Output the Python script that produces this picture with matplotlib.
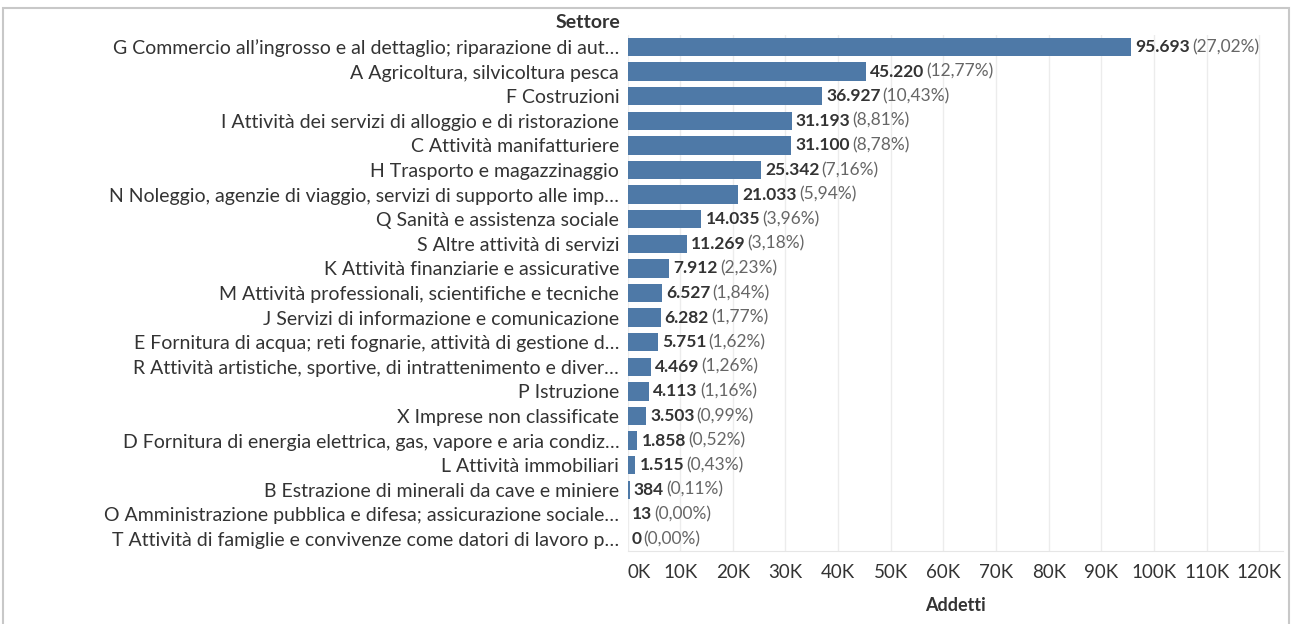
import matplotlib
matplotlib.use("Agg")
import matplotlib.pyplot as plt
from matplotlib.patches import Rectangle

plt.rcParams['font.family'] = ['Lato', 'DejaVu Sans']

settori = [
    "G Commercio all\u2019ingrosso e al dettaglio; riparazione di aut\u2026",
    "A Agricoltura, silvicoltura pesca",
    "F Costruzioni",
    "I Attività dei servizi di alloggio e di ristorazione",
    "C Attività manifatturiere",
    "H Trasporto e magazzinaggio",
    "N Noleggio, agenzie di viaggio, servizi di supporto alle imp\u2026",
    "Q Sanità e assistenza sociale",
    "S Altre attività di servizi",
    "K Attività finanziarie e assicurative",
    "M Attività professionali, scientifiche e tecniche",
    "J Servizi di informazione e comunicazione",
    "E Fornitura di acqua; reti fognarie, attività di gestione d\u2026",
    "R Attività artistiche, sportive, di intrattenimento e diver\u2026",
    "P Istruzione",
    "X Imprese non classificate",
    "D Fornitura di energia elettrica, gas, vapore e aria condiz\u2026",
    "L Attività immobiliari",
    "B Estrazione di minerali da cave e miniere",
    "O Amministrazione pubblica e difesa; assicurazione sociale\u2026",
    "T Attività di famiglie e convivenze come datori di lavoro p\u2026",
]
addetti = [95693, 45220, 36927, 31193, 31100, 25342, 21033, 14035, 11269,
           7912, 6527, 6282, 5751, 4469, 4113, 3503, 1858, 1515, 384, 13, 0]
tick_values = list(range(0, 120001, 10000))
tick_labels = [f"{v // 1000}K" for v in tick_values]

BAR = "#4e79a7"
TXT = "#333333"
GRAY = "#666666"

totale = sum(addetti)
W, H = 1291, 624
fig = plt.figure(figsize=(W / 100, H / 100), dpi=100)
ax = fig.add_axes([627.5 / W, 1 - 551.3 / H, (1283 - 627.5) / W, (551.3 - 34.7) / H])

y = list(range(len(addetti)))
ax.barh(y, addetti, height=0.75, color=BAR, zorder=3)
ax.set_ylim(len(addetti) - 0.5, -0.5)
ax.set_xlim(0, 124500)

ax.set_yticks(y)
ax.set_yticklabels(settori, fontsize=14, color=TXT)
ax.set_xticks(tick_values)
ax.set_xticklabels(tick_labels, fontsize=13.5, color=TXT)
ax.get_xticklabels()[0].set_horizontalalignment('left')
ax.tick_params(axis='y', length=0, pad=6)
ax.tick_params(axis='x', length=0, pad=9)

ax.grid(axis='x', color="#ececec", linewidth=1, zorder=0)
for s in ['top', 'right', 'left']:
    ax.spines[s].set_visible(False)
ax.spines['bottom'].set_color("#e6e6e6")

ax.set_xlabel("Addetti", fontsize=13, fontweight='bold', color=TXT, labelpad=12)
fig.text(620 / W, 1 - 23 / H, "Settore", fontsize=14, fontweight='bold',
         color=TXT, ha='right', va='center')

# value labels: bold count followed by grey share
for yi, v in zip(y, addetti):
    num = f"{v:,}".replace(",", ".")
    pct = f"({100 * v / totale:.2f}%)".replace(".", ",")
    t = ax.annotate(num, xy=(v, yi), xytext=(3, 0), textcoords='offset points',
                    fontsize=12.5, fontweight='bold', color=TXT,
                    ha='left', va='center')
    ax.annotate(pct, xy=(1, 0.5), xycoords=t, xytext=(1.5, 0),
                textcoords='offset points', fontsize=12.5, color=GRAY,
                ha='left', va='center')

# outer frame (bottom edge falls outside the image)
fig.patches.append(Rectangle((3.5 / W, -0.05), (1289 - 3.5) / W, 1.05 - 8 / H,
                             transform=fig.transFigure, fill=False,
                             edgecolor="#c8c8c8", linewidth=1.5))

fig.savefig("out.png", dpi=100, facecolor="white")
